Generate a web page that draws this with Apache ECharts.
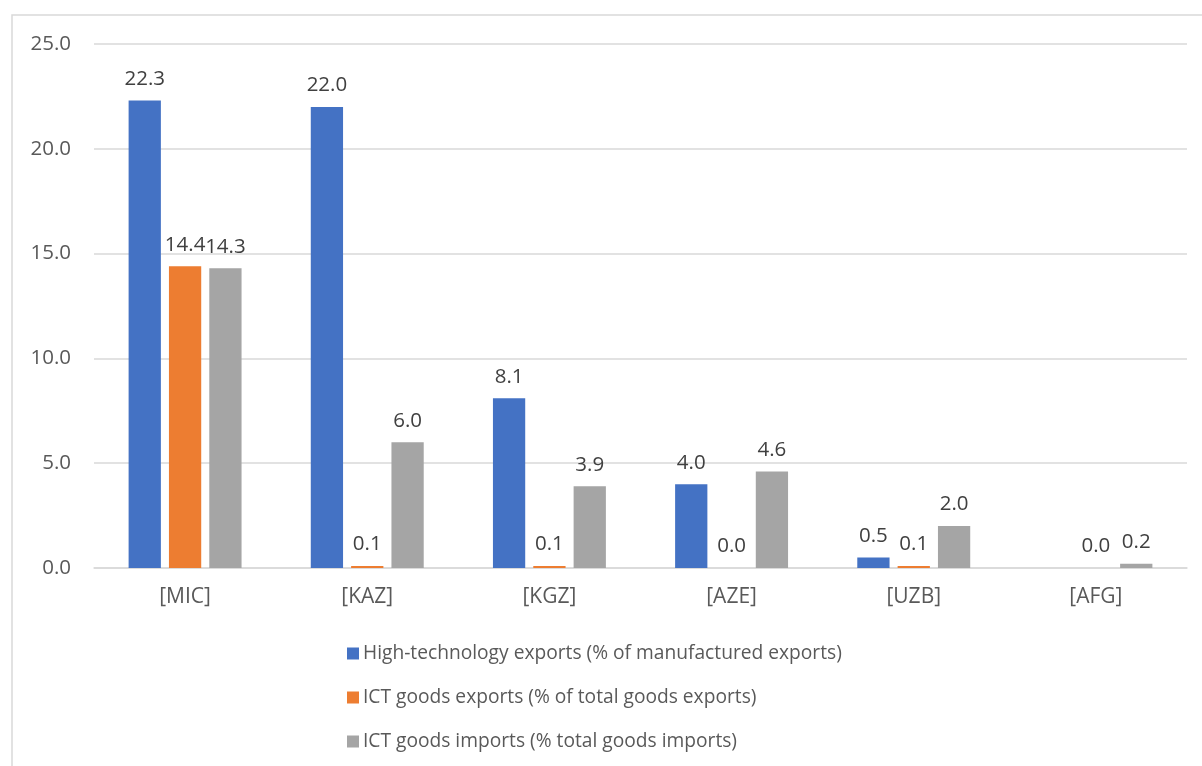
<!DOCTYPE html>
<html>
<head>
<meta charset="utf-8">
<script src="https://cdn.jsdelivr.net/npm/echarts@6/dist/echarts.min.js"></script>
<style>
  html, body { margin: 0; padding: 0; background: #ffffff; }
  #chart { width: 1202px; height: 766px; }
</style>
</head>
<body>
<div id="chart"></div>
<script>
// Country groups along the x axis
const categories = ['[MIC]', '[KAZ]', '[KGZ]', '[AZE]', '[UZB]', '[AFG]'];

// Series names
const seriesNames = [
  'High-technology exports (% of manufactured exports)',
  'ICT goods exports (% of total goods exports)',
  'ICT goods imports (% total goods imports)'
];

// Values per indicator (null = no data)
const highTechExports = [22.3, 22.0, 8.1, 4.0, 0.5, null];
const ictExports = [14.4, 0.1, 0.1, 0.0, 0.1, 0.0];
const ictImports = [14.3, 6.0, 3.9, 4.6, 2.0, 0.2];

// Value axis ticks
const yTicks = [0, 5, 10, 15, 20, 25];

const colors = ['#4472C4', '#ED7D31', '#A5A5A5'];
const fontFamily = '"Open Sans", "Noto Sans", sans-serif';

const chart = echarts.init(document.getElementById('chart'), null, { renderer: 'canvas' });

function barSeries(name, data, color) {
  return {
    name: name,
    type: 'bar',
    data: data,
    barGap: '25%',
    barCategoryGap: '38%',
    itemStyle: { color: color },
    label: {
      show: true,
      position: 'top',
      distance: 11,
      color: '#404040',
      fontFamily: fontFamily,
      fontSize: 20.5,
      formatter: p => (p.value == null ? '' : Number(p.value).toFixed(1))
    },
    emphasis: { disabled: true }
  };
}

chart.setOption({
  animation: false,
  color: colors,
  graphic: [{
    type: 'rect',
    shape: { x: 12, y: 15, width: 1200, height: 800 },
    style: { fill: 'none', stroke: '#d9d9d9', lineWidth: 1.5 },
    silent: true
  }],
  grid: { left: 94, right: 15, top: 44, bottom: 198, containLabel: false },
  xAxis: {
    type: 'category',
    data: categories,
    axisLine: { lineStyle: { color: '#d9d9d9', width: 1.5 } },
    axisTick: { show: false },
    axisLabel: {
      color: '#595959',
      fontFamily: fontFamily,
      fontSize: 21,
      margin: 19
    }
  },
  yAxis: {
    type: 'value',
    min: yTicks[0],
    max: yTicks[yTicks.length - 1],
    interval: yTicks[1] - yTicks[0],
    axisLine: { show: false },
    axisTick: { show: false },
    splitLine: { lineStyle: { color: '#d9d9d9', width: 1.5 } },
    axisLabel: {
      color: '#595959',
      fontFamily: fontFamily,
      fontSize: 20.5,
      margin: 23,
      formatter: v => v.toFixed(1)
    }
  },
  legend: {
    orient: 'vertical',
    left: 342,
    top: 639,
    itemWidth: 12,
    itemHeight: 12,
    itemGap: 25,
    icon: 'rect',
    textStyle: {
      color: '#595959',
      fontFamily: fontFamily,
      fontSize: 19.2,
      padding: [0, 0, 0, -1]
    },
    data: seriesNames
  },
  series: [
    barSeries(seriesNames[0], highTechExports, colors[0]),
    barSeries(seriesNames[1], ictExports, colors[1]),
    barSeries(seriesNames[2], ictImports, colors[2])
  ]
});
</script>
</body>
</html>
